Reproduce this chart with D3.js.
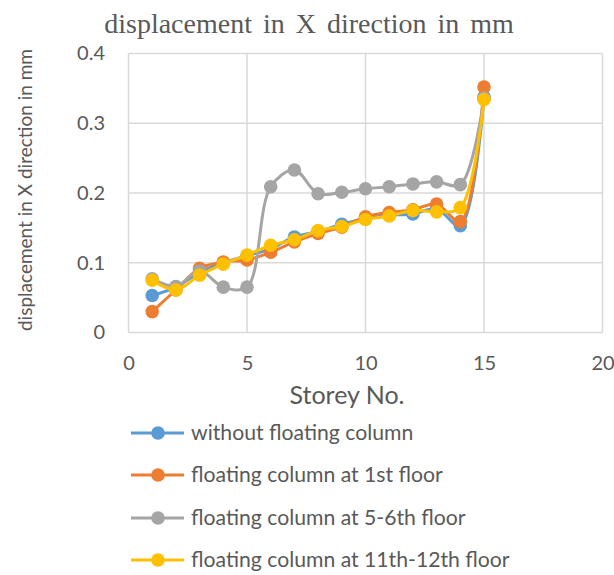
<!DOCTYPE html>
<html>
<head>
<meta charset="utf-8">
<script src="https://cdn.jsdelivr.net/npm/d3@7"></script>
<style>
  html, body { margin: 0; padding: 0; background: #fff; }
  svg { display: block; }
</style>
</head>
<body>
<svg id="chart" width="614" height="575"></svg>
<script>
// Storey numbers and displacement (mm) for each model
const storeys = [1, 2, 3, 4, 5, 6, 7, 8, 9, 10, 11, 12, 13, 14, 15];
const withoutFloating = [0.053, 0.065, 0.086, 0.100, 0.110, 0.120, 0.137, 0.145, 0.155, 0.163, 0.168, 0.170, 0.177, 0.153, 0.338];
const floating1st     = [0.030, 0.061, 0.092, 0.101, 0.104, 0.115, 0.130, 0.142, 0.151, 0.166, 0.172, 0.176, 0.184, 0.159, 0.352];
const floating5to6    = [0.077, 0.066, 0.088, 0.065, 0.065, 0.209, 0.233, 0.199, 0.201, 0.206, 0.209, 0.213, 0.216, 0.212, 0.336];
const floating11to12  = [0.075, 0.061, 0.082, 0.098, 0.111, 0.125, 0.133, 0.146, 0.152, 0.162, 0.167, 0.175, 0.173, 0.179, 0.334];

const seriesNames = [
  "without floating column",
  "floating column at 1st floor",
  "floating column at 5-6th floor",
  "floating column at 11th-12th floor"
];
const seriesColors = ["#5B9BD5", "#ED7D31", "#A5A5A5", "#FFC000"];
const seriesValues = [withoutFloating, floating1st, floating5to6, floating11to12];

const xTicks = [0, 5, 10, 15, 20];
const yTicks = [0, 0.1, 0.2, 0.3, 0.4];

const svg = d3.select("#chart");
const textColor = "#595959";
const gridColor = "#D9D9D9";
const sansFont = "Lato, 'Open Sans', 'Liberation Sans', sans-serif";

const plot = { left: 128.5, right: 602.5, top: 53.5, bottom: 332.5 };

const x = d3.scaleLinear().domain([0, 20]).range([plot.left, plot.right]);
const y = d3.scaleLinear().domain([0, 0.4]).range([plot.bottom, plot.top]);

// Chart title
svg.append("text")
  .attr("x", 309).attr("y", 33)
  .attr("text-anchor", "middle")
  .attr("font-family", "'Liberation Serif', 'Times New Roman', serif")
  .attr("font-size", 28)
  .attr("fill", textColor)
  .attr("word-spacing", 4)
  .text("displacement in X direction in mm");

// Gridlines
const grid = svg.append("g");
grid.selectAll("line.h").data(yTicks).join("line")
  .attr("x1", plot.left).attr("x2", plot.right)
  .attr("y1", d => y(d)).attr("y2", d => y(d))
  .attr("stroke", gridColor).attr("stroke-width", 1.5);
grid.selectAll("line.v").data(xTicks).join("line")
  .attr("x1", d => x(d)).attr("x2", d => x(d))
  .attr("y1", plot.top).attr("y2", plot.bottom)
  .attr("stroke", gridColor).attr("stroke-width", 1.5);

// Axes (labels only, Excel-style)
const xAxis = svg.append("g")
  .attr("transform", `translate(0,${plot.bottom})`)
  .call(d3.axisBottom(x).tickValues(xTicks).tickSize(0).tickPadding(23).tickFormat(d3.format("d")));
const yAxis = svg.append("g")
  .attr("transform", `translate(${plot.left - 23.5},0)`)
  .call(d3.axisLeft(y).tickValues(yTicks).tickSize(0).tickPadding(0).tickFormat(d => d === 0 ? "0" : d3.format(".1f")(d)));
[xAxis, yAxis].forEach(g => {
  g.select(".domain").remove();
  g.selectAll("text")
    .attr("fill", textColor)
    .attr("font-family", sansFont)
    .attr("font-size", 20);
});

// Axis titles
svg.append("text")
  .attr("x", 347).attr("y", 404)
  .attr("text-anchor", "middle")
  .attr("font-family", sansFont)
  .attr("font-size", 25)
  .attr("fill", textColor)
  .text("Storey No.");

svg.append("text")
  .attr("transform", `translate(32,190) rotate(-90)`)
  .attr("text-anchor", "middle")
  .attr("font-family", sansFont)
  .attr("font-size", 19)
  .attr("fill", textColor)
  .text("displacement in X direction in mm");

// Series lines and markers
const line = d3.line()
  .x((d, i) => x(storeys[i]))
  .y(d => y(d))
  .curve(d3.curveCatmullRom.alpha(0.5));

const seriesG = svg.append("g");
seriesValues.forEach((vals, k) => {
  const g = seriesG.append("g");
  g.append("path")
    .datum(vals)
    .attr("d", line)
    .attr("fill", "none")
    .attr("stroke", seriesColors[k])
    .attr("stroke-width", 3)
    .attr("stroke-linejoin", "round");
  g.selectAll("circle").data(vals).join("circle")
    .attr("cx", (d, i) => x(storeys[i]))
    .attr("cy", d => y(d))
    .attr("r", 6.8)
    .attr("fill", seriesColors[k]);
});

// Legend
const legend = svg.append("g");
const rowY = [433, 475, 518, 560];
seriesNames.forEach((name, k) => {
  const row = legend.append("g").attr("transform", `translate(0,${rowY[k]})`);
  row.append("line")
    .attr("x1", 131).attr("x2", 184).attr("y1", 0).attr("y2", 0)
    .attr("stroke", seriesColors[k]).attr("stroke-width", 3);
  row.append("circle")
    .attr("cx", 158).attr("cy", 0).attr("r", 6.8)
    .attr("fill", seriesColors[k]);
  row.append("text")
    .attr("x", 191).attr("y", 0)
    .attr("dy", "0.35em")
    .attr("font-family", sansFont)
    .attr("font-size", 21.2)
    .attr("fill", textColor)
    .text(name);
});
</script>
</body>
</html>
